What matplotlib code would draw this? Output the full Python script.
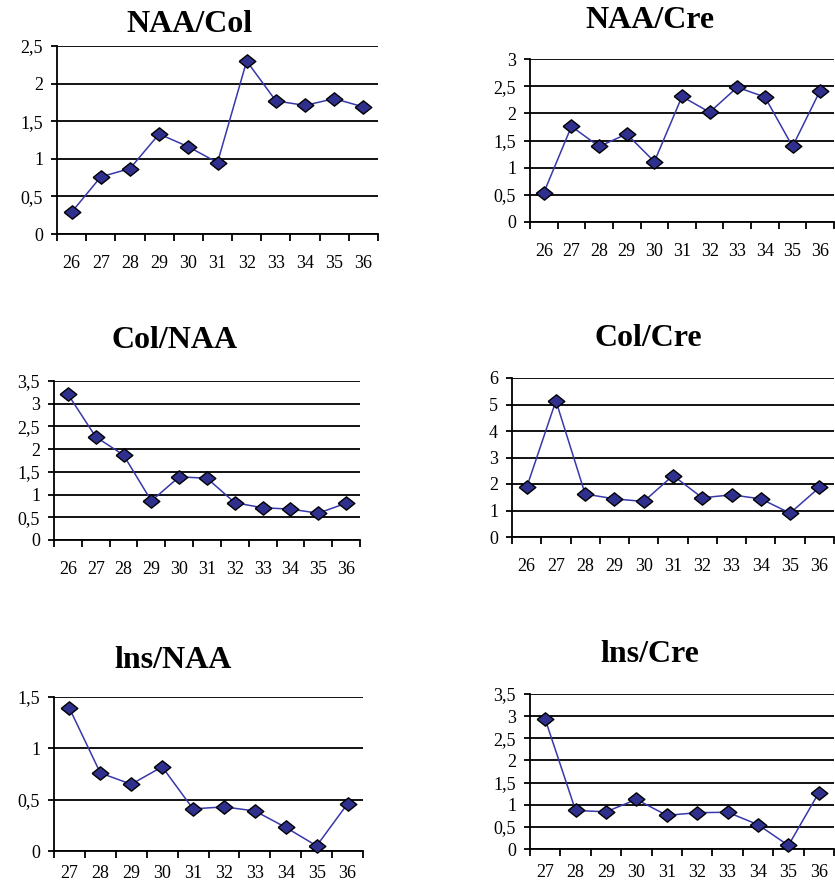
"""
Six small line charts of metabolite ratios by age (26-36),
drawn as a 3x2 sheet with spreadsheet-style category axes.
"""
import numpy as np
import matplotlib
matplotlib.use("Agg")
import matplotlib.pyplot as plt
from matplotlib.ticker import FuncFormatter

plt.rcParams["font.family"] = ["Liberation Serif", "DejaVu Serif"]

# Ages on the category axis
ages_full = ["26", "27", "28", "29", "30", "31", "32", "33", "34", "35", "36"]
ages_short = ["27", "28", "29", "30", "31", "32", "33", "34", "35", "36"]

# Ratio values per age
naa_col = [0.29, 0.76, 0.87, 1.33, 1.16, 0.95, 2.30, 1.77, 1.71, 1.80, 1.69]
naa_cre = [0.54, 1.76, 1.39, 1.62, 1.11, 2.31, 2.02, 2.48, 2.30, 1.39, 2.42]
col_naa = [3.21, 2.27, 1.87, 0.86, 1.39, 1.36, 0.82, 0.71, 0.68, 0.59, 0.81]
col_cre = [1.87, 5.14, 1.62, 1.44, 1.34, 2.32, 1.48, 1.59, 1.44, 0.90, 1.87]
ins_naa = [1.39, 0.76, 0.65, 0.82, 0.41, 0.43, 0.39, 0.23, 0.05, 0.46]
ins_cre = [2.93, 0.87, 0.84, 1.12, 0.76, 0.82, 0.83, 0.55, 0.08, 1.27]

W, H = 835, 886
LINE_COLOR = "#3838aa"
FACE_COLOR = "#2f2f8e"
# slightly flattened diamond
DIAMOND = [(-1, 0), (0, 0.8), (1, 0), (0, -0.8), (-1, 0)]


def add_panel(fig, box, title, title_xy, labels, values, ymax, ystep, label_pad=15):
    """Draw one ratio chart; box and title_xy are in pixels from top-left."""
    left, top, right, bottom = box
    ax = fig.add_axes([left / W, 1 - bottom / H, (right - left) / W, (bottom - top) / H])

    n = len(labels)
    x = np.arange(n)
    ax.plot(x, values, color=LINE_COLOR, lw=1.1, marker=DIAMOND, ms=12,
            mfc=FACE_COLOR, mec="black", mew=1.0, clip_on=False, zorder=3)

    ax.set_xlim(-0.5, n - 0.5)
    ax.set_ylim(0, ymax)

    # category boundaries get the tick marks, labels sit between them
    ax.set_xticks(np.arange(n + 1) - 0.5)
    ax.set_xticklabels([])
    ax.set_xticks(x, minor=True)
    ax.set_xticklabels(labels, minor=True)
    ax.tick_params(axis="x", which="major", direction="out", length=5,
                   width=1.3, color="black")
    ax.tick_params(axis="x", which="minor", length=0, pad=label_pad, labelsize=13)

    ax.set_yticks(np.arange(0, ymax + ystep / 2, ystep))
    ax.yaxis.set_major_formatter(FuncFormatter(lambda v, _: f"{v:g}".replace(".", ",")))
    ax.tick_params(axis="y", direction="out", length=4, width=1.3, pad=6,
                   labelsize=13, color="black")

    ax.yaxis.grid(True, color="black", lw=1.3)
    ax.set_axisbelow(True)
    for side in ("top", "right"):
        ax.spines[side].set_visible(False)
    for side in ("left", "bottom"):
        ax.spines[side].set_linewidth(1.3)
        ax.spines[side].set_color("black")

    fig.text(title_xy[0] / W, 1 - title_xy[1] / H, title, ha="center", va="center",
             fontsize=23, fontweight="bold")
    return ax


fig = plt.figure(figsize=(W / 100, H / 100), dpi=100)

add_panel(fig, (57, 46, 378, 234), "NAA/Col", (189, 24), ages_full, naa_col, 2.5, 0.5)
add_panel(fig, (530, 59, 834, 222), "NAA/Cre", (650, 21), ages_full, naa_cre, 3, 0.5)
add_panel(fig, (54, 381, 360, 540), "Col/NAA", (175, 341), ages_full, col_naa, 3.5, 0.5)
add_panel(fig, (512, 378, 834, 537), "Col/Cre", (648, 339), ages_full, col_cre, 6, 1)
add_panel(fig, (54, 697, 363, 851), "lns/NAA", (173, 660), ages_short, ins_naa, 1.5, 0.5,
          label_pad=10)
add_panel(fig, (530, 694, 834, 849), "lns/Cre", (650, 654), ages_short, ins_cre, 3.5, 0.5,
          label_pad=11)

fig.savefig("out.png", dpi=100)
